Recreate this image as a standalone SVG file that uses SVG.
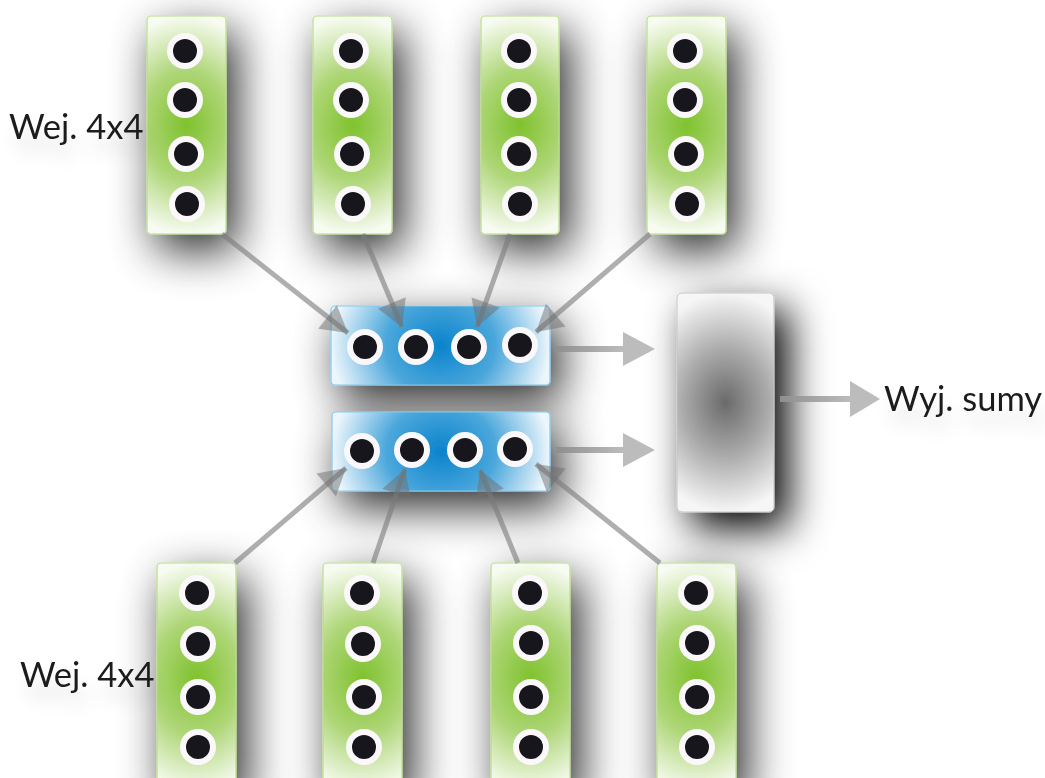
<svg xmlns="http://www.w3.org/2000/svg" width="1045" height="778" viewBox="0 0 1045 778">
<defs>
<style>
.lbl{font-family:"Lato","Open Sans","Liberation Sans",sans-serif;font-size:34.5px;fill:#1a1a1a}
.col{fill:url(#gGreen);stroke:#b9dc8c;stroke-width:1.2}
.blue{fill:url(#gBlue);stroke:#84c8ea;stroke-width:1.2}
.ring{fill:#fbf8fb}
.dot{fill:#18191b}
.con{stroke:#7a7a7a;stroke-opacity:0.6;stroke-width:5;fill:none}
.ah{fill:#6e6e6e;fill-opacity:0.5}
</style>
<radialGradient id="gGreen" cx="0.5" cy="0.5" r="0.5" gradientTransform="translate(0.5,0.5) scale(2.2,1) translate(-0.5,-0.5)">
<stop offset="0" stop-color="#7fc22e"/>
<stop offset="0.5" stop-color="#aed677"/>
<stop offset="1" stop-color="#f7fbf1"/>
</radialGradient>
<radialGradient id="gBlue" cx="0.5" cy="0.5" r="0.5" gradientTransform="translate(0.5,0.5) scale(1,2.4) translate(-0.5,-0.5)">
<stop offset="0" stop-color="#0a83cc"/>
<stop offset="0.5" stop-color="#4ba7db"/>
<stop offset="1" stop-color="#ecf6fc"/>
</radialGradient>
<radialGradient id="gGray" cx="0.5" cy="0.5" r="0.5" gradientTransform="translate(0.5,0.5) scale(1.8,1) translate(-0.5,-0.5)">
<stop offset="0" stop-color="#6a6a6a"/>
<stop offset="0.5" stop-color="#acacac"/>
<stop offset="1" stop-color="#f6f6f6"/>
</radialGradient>
<linearGradient id="gShaft" x1="0" y1="0" x2="1" y2="0">
<stop offset="0" stop-color="#8e8e8e"/>
<stop offset="1" stop-color="#bdbdbd"/>
</linearGradient>
<filter id="sh" filterUnits="userSpaceOnUse" x="-100" y="-100" width="1245" height="978">
<feGaussianBlur in="SourceAlpha" stdDeviation="23"/>
<feOffset dx="10" dy="16" result="b"/>
<feComponentTransfer><feFuncA type="linear" slope="0.85"/></feComponentTransfer>
<feMerge><feMergeNode/><feMergeNode in="SourceGraphic"/></feMerge>
</filter>
<filter id="shBig" filterUnits="userSpaceOnUse" x="-100" y="-100" width="1245" height="978">
<feGaussianBlur in="SourceAlpha" stdDeviation="20"/>
<feOffset dx="14" dy="16" result="b"/>
<feComponentTransfer><feFuncA type="linear" slope="1"/></feComponentTransfer>
<feMerge><feMergeNode/><feMergeNode in="SourceGraphic"/></feMerge>
</filter>
<filter id="shTxt" x="-20%" y="-50%" width="140%" height="250%">
<feGaussianBlur in="SourceAlpha" stdDeviation="9"/>
<feOffset dx="4" dy="16" result="b"/>
<feComponentTransfer><feFuncA type="linear" slope="0.12"/></feComponentTransfer>
<feMerge><feMergeNode/><feMergeNode in="SourceGraphic"/></feMerge>
</filter>
<marker id="arr" markerUnits="userSpaceOnUse" markerWidth="32" markerHeight="32" viewBox="0 0 32 32" refX="28" refY="16" orient="auto">
<path d="M2,1 L28,16 L2,31 Z" class="ah"/>
</marker>
</defs>
<rect width="1045" height="778" fill="#ffffff"/>

<!-- top input columns -->
<g id="in-top-1" filter="url(#sh)">
<rect x="147" y="16" width="79" height="218" rx="4" class="col"/>
<circle cx="185" cy="51" r="18" class="ring"/><circle cx="185" cy="51" r="12" class="dot"/>
<circle cx="185" cy="100" r="18" class="ring"/><circle cx="185" cy="100" r="12" class="dot"/>
<circle cx="186" cy="154" r="18" class="ring"/><circle cx="186" cy="154" r="12" class="dot"/>
<circle cx="187" cy="204" r="18" class="ring"/><circle cx="187" cy="204" r="12" class="dot"/>
</g>
<g id="in-top-2" filter="url(#sh)">
<rect x="313" y="16" width="79" height="218" rx="4" class="col"/>
<circle cx="351" cy="51" r="18" class="ring"/><circle cx="351" cy="51" r="12" class="dot"/>
<circle cx="351" cy="100" r="18" class="ring"/><circle cx="351" cy="100" r="12" class="dot"/>
<circle cx="352" cy="154" r="18" class="ring"/><circle cx="352" cy="154" r="12" class="dot"/>
<circle cx="353" cy="204" r="18" class="ring"/><circle cx="353" cy="204" r="12" class="dot"/>
</g>
<g id="in-top-3" filter="url(#sh)">
<rect x="481" y="16" width="78" height="218" rx="4" class="col"/>
<circle cx="519" cy="51" r="18" class="ring"/><circle cx="519" cy="51" r="12" class="dot"/>
<circle cx="519" cy="100" r="18" class="ring"/><circle cx="519" cy="100" r="12" class="dot"/>
<circle cx="519" cy="154" r="18" class="ring"/><circle cx="519" cy="154" r="12" class="dot"/>
<circle cx="520" cy="204" r="18" class="ring"/><circle cx="520" cy="204" r="12" class="dot"/>
</g>
<g id="in-top-4" filter="url(#sh)">
<rect x="647" y="16" width="79" height="218" rx="4" class="col"/>
<circle cx="685" cy="51" r="18" class="ring"/><circle cx="685" cy="51" r="12" class="dot"/>
<circle cx="685" cy="100" r="18" class="ring"/><circle cx="685" cy="100" r="12" class="dot"/>
<circle cx="686" cy="154" r="18" class="ring"/><circle cx="686" cy="154" r="12" class="dot"/>
<circle cx="687" cy="204" r="18" class="ring"/><circle cx="687" cy="204" r="12" class="dot"/>
</g>

<!-- bottom input columns -->
<g id="in-bot-1" filter="url(#sh)">
<rect x="157" y="563" width="79" height="230" rx="4" class="col"/>
<circle cx="197" cy="593" r="18" class="ring"/><circle cx="197" cy="593" r="12" class="dot"/>
<circle cx="198" cy="644" r="18" class="ring"/><circle cx="198" cy="644" r="12" class="dot"/>
<circle cx="198" cy="697" r="18" class="ring"/><circle cx="198" cy="697" r="12" class="dot"/>
<circle cx="198" cy="747" r="18" class="ring"/><circle cx="198" cy="747" r="12" class="dot"/>
</g>
<g id="in-bot-2" filter="url(#sh)">
<rect x="323" y="563" width="79" height="230" rx="4" class="col"/>
<circle cx="362" cy="593" r="18" class="ring"/><circle cx="362" cy="593" r="12" class="dot"/>
<circle cx="363" cy="644" r="18" class="ring"/><circle cx="363" cy="644" r="12" class="dot"/>
<circle cx="364" cy="697" r="18" class="ring"/><circle cx="364" cy="697" r="12" class="dot"/>
<circle cx="364" cy="747" r="18" class="ring"/><circle cx="364" cy="747" r="12" class="dot"/>
</g>
<g id="in-bot-3" filter="url(#sh)">
<rect x="491" y="563" width="79" height="230" rx="4" class="col"/>
<circle cx="530" cy="593" r="18" class="ring"/><circle cx="530" cy="593" r="12" class="dot"/>
<circle cx="531" cy="643" r="18" class="ring"/><circle cx="531" cy="643" r="12" class="dot"/>
<circle cx="531" cy="697" r="18" class="ring"/><circle cx="531" cy="697" r="12" class="dot"/>
<circle cx="531" cy="747" r="18" class="ring"/><circle cx="531" cy="747" r="12" class="dot"/>
</g>
<g id="in-bot-4" filter="url(#sh)">
<rect x="657" y="563" width="79" height="230" rx="4" class="col"/>
<circle cx="696" cy="593" r="18" class="ring"/><circle cx="696" cy="593" r="12" class="dot"/>
<circle cx="697" cy="643" r="18" class="ring"/><circle cx="697" cy="643" r="12" class="dot"/>
<circle cx="697" cy="697" r="18" class="ring"/><circle cx="697" cy="697" r="12" class="dot"/>
<circle cx="697" cy="747" r="18" class="ring"/><circle cx="697" cy="747" r="12" class="dot"/>
</g>

<!-- blue accumulator rows -->
<g id="acc-top" filter="url(#sh)">
<rect x="331" y="306" width="219" height="79" rx="4" class="blue"/>
<circle cx="365" cy="347" r="18" class="ring"/><circle cx="365" cy="347" r="12" class="dot"/>
<circle cx="416" cy="347" r="18" class="ring"/><circle cx="416" cy="347" r="12" class="dot"/>
<circle cx="469" cy="347" r="18" class="ring"/><circle cx="469" cy="347" r="12" class="dot"/>
<circle cx="520" cy="345" r="18" class="ring"/><circle cx="520" cy="345" r="12" class="dot"/>
</g>
<g id="acc-bot" filter="url(#sh)">
<rect x="332" y="412" width="218" height="79" rx="4" class="blue"/>
<circle cx="362" cy="451" r="18" class="ring"/><circle cx="362" cy="451" r="12" class="dot"/>
<circle cx="412" cy="450" r="18" class="ring"/><circle cx="412" cy="450" r="12" class="dot"/>
<circle cx="465" cy="450" r="18" class="ring"/><circle cx="465" cy="450" r="12" class="dot"/>
<circle cx="515" cy="449" r="18" class="ring"/><circle cx="515" cy="449" r="12" class="dot"/>
</g>

<!-- sum block -->
<g id="sum" filter="url(#shBig)">
<rect x="677" y="293" width="97" height="219" rx="5" fill="url(#gGray)" stroke="#c4c4c4" stroke-width="1"/>
</g>

<!-- connectors -->
<g id="connectors">
<line x1="222" y1="234" x2="348" y2="333" class="con" marker-end="url(#arr)"/>
<line x1="363" y1="234" x2="402" y2="327" class="con" marker-end="url(#arr)"/>
<line x1="510" y1="234" x2="477" y2="327" class="con" marker-end="url(#arr)"/>
<line x1="650" y1="234" x2="536" y2="332" class="con" marker-end="url(#arr)"/>
<line x1="235" y1="563" x2="346" y2="468" class="con" marker-end="url(#arr)"/>
<line x1="373" y1="563" x2="405" y2="469" class="con" marker-end="url(#arr)"/>
<line x1="518" y1="563" x2="480" y2="470" class="con" marker-end="url(#arr)"/>
<line x1="660" y1="563" x2="536" y2="464" class="con" marker-end="url(#arr)"/>
<rect x="555" y="346" width="70" height="6" fill="url(#gShaft)"/>
<path d="M623,332 L655,349 L623,366 Z" fill="#bcbcbc"/>
<rect x="556" y="447" width="69" height="6" fill="url(#gShaft)"/>
<path d="M623,433 L655,450 L623,467 Z" fill="#bcbcbc"/>
<rect x="780" y="396" width="72" height="6" fill="url(#gShaft)"/>
<path d="M850,381 L880,399 L850,417 Z" fill="#bcbcbc"/>
</g>

<!-- labels -->
<g id="labels">
<text x="9" y="139" class="lbl" filter="url(#shTxt)">Wej. 4x4</text>
<text x="20" y="687" class="lbl" filter="url(#shTxt)">Wej. 4x4</text>
<text x="884" y="411" class="lbl" filter="url(#shTxt)">Wyj. sumy</text>
</g>
</svg>
